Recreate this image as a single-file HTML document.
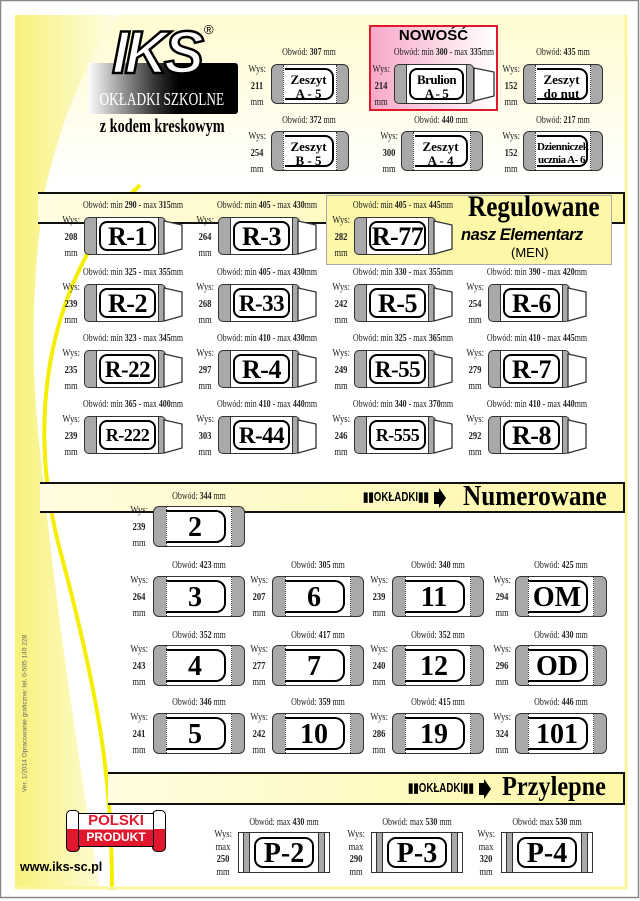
<!DOCTYPE html>
<html><head><meta charset="utf-8">
<style>
*{margin:0;padding:0;box-sizing:border-box}
body{width:640px;height:901px;overflow:hidden;background:#fff;position:relative;font-family:"Liberation Serif",serif;color:#000}
.a{position:absolute}
.ob{position:absolute;width:170px;text-align:center;font-size:11px;line-height:13px;transform:scaleX(.72);white-space:nowrap;color:#222}
.ob b{font-weight:bold}
.w{position:absolute;width:22px;text-align:center;font-size:11px;line-height:16.5px;transform:scaleX(.78);color:#222}
.w b{font-weight:bold}
.r{position:absolute;width:82px;height:38px;background:#a9a9a9;border:1.5px solid #333;border-radius:5px}
.r .in{position:absolute;left:11px;right:6px;top:0;bottom:0;background:#fff;border-left:1.5px solid #333;border-right:1.5px solid #333}
.r .lb{position:absolute;left:2px;right:2px;top:3px;bottom:3px;border:2px solid #000;border-radius:8px;font-weight:bold;font-size:26px;line-height:27px;text-align:center;white-space:nowrap;letter-spacing:-0.5px}
.r svg{position:absolute;left:79px;top:-1px;overflow:visible}
.n{position:absolute;width:92px;height:41px;background:#a9a9a9;border:1.5px solid #333;border-radius:6px}
.n .in{position:absolute;left:12px;right:12px;top:0;bottom:0;background:#fff;border-left:1px dotted #333;border-right:1px dotted #333}
.n .lb{position:absolute;left:-1px;right:5px;top:3px;bottom:3px;border:2px solid #000;border-left:none;border-radius:0 10px 10px 0;font-weight:bold;font-size:28px;line-height:31px;text-align:center}
.t{position:absolute;width:78px;height:40px;background:#a9a9a9;border:1.5px solid #333;border-radius:6px}
.t .in{position:absolute;left:11px;right:11px;top:0;bottom:0;background:#fff;border-left:1px dotted #333;border-right:1px dotted #333}
.t .lb{position:absolute;left:1px;right:2px;top:3px;bottom:3px;border:2px solid #000;border-radius:0 9px 9px 0;border-left:none;font-weight:bold;font-size:13px;line-height:13.5px;text-align:center;padding-top:3px;white-space:nowrap}
.p{position:absolute;width:92px;height:41px;background:#fff;border:1.2px solid #333}
.p .s1{position:absolute;left:4px;width:7px;top:0;bottom:0;background:#a9a9a9;border-left:1px solid #333;border-right:1px solid #333}
.p .s2{position:absolute;right:4px;width:7px;top:0;bottom:0;background:#a9a9a9;border-left:1px solid #333;border-right:1px solid #333}
.p .lb{position:absolute;left:15px;right:15px;top:4px;bottom:4px;border:2px solid #000;border-radius:9px;font-weight:bold;font-size:28px;line-height:30px;text-align:center}
.band{position:absolute;right:15px;border-top:2px solid #111;border-bottom:2px solid #111;border-right:2px solid #111;background:linear-gradient(90deg,#fffce0,#fdf8a8)}
.big{position:absolute;font-weight:bold;white-space:nowrap;transform-origin:left top}
.ok{position:absolute;font-family:"Liberation Sans",sans-serif;font-weight:bold;font-size:13px;white-space:nowrap;transform:scaleX(.75);transform-origin:left}
</style></head><body>
<svg class="a" style="left:0;top:0" width="640" height="901">
<defs>
<linearGradient id="yl" x1="0" x2="1" y1="0" y2="0"><stop offset="0" stop-color="#f7f27a"/><stop offset="1" stop-color="#fffde8"/></linearGradient>
<linearGradient id="tp" x1="0" x2="0" y1="0" y2="1"><stop offset="0" stop-color="#fffbd0"/><stop offset="1" stop-color="#ffffff"/></linearGradient>
</defs>
<rect x="0.5" y="0.5" width="638" height="897" fill="#fff" stroke="#888" stroke-width="1.5"/>
<rect x="15" y="15" width="610" height="874" fill="#fff"/>
<rect x="15" y="15" width="610" height="170" fill="url(#tp)"/>
<path d="M15,15 L120,15 Q70,80 45,190 Q25,320 40,450 Q60,650 100,889 L15,889 Z" fill="url(#yl)"/>
<path d="M140,185 C60,260 20,400 60,550 S112,780 112,890" fill="none" stroke="#f5ee00" stroke-width="4"/>
<line x1="626" y1="15" x2="626" y2="889" stroke="#fbf59a" stroke-width="3"/>
<line x1="15" y1="888" x2="626" y2="888" stroke="#fbf59a" stroke-width="3"/>
</svg>

<!-- logo -->
<div class="a" style="left:88px;top:63px;width:150px;height:51px;background:linear-gradient(90deg,#fff 0%,#333 45%,#000 60%);border-radius:0 3px 3px 0"></div>
<div class="big" style="left:112px;top:18px;font-size:60px;font-style:italic;color:#fff;-webkit-text-stroke:2.5px #000;letter-spacing:-4px;font-family:'Liberation Sans',sans-serif">IKS</div>
<div class="a" style="left:204px;top:22px;font-size:13px;font-family:'Liberation Sans',sans-serif">®</div>
<div class="a" style="left:80px;top:89px;width:150px;text-align:center;color:#fff;font-size:18px;transform:scaleX(.74);white-space:nowrap">OKŁADKI SZKOLNE</div>
<div class="a" style="left:80px;top:116px;width:158px;text-align:center;font-weight:bold;font-size:19px;transform:scaleX(.75);white-space:nowrap">z kodem kreskowym</div>

<!-- NOWOSC box -->
<div class="a" style="left:369px;top:25px;width:129px;height:86px;border:2px solid #e0182e;background:linear-gradient(90deg,#f7a8c8,#fff)"></div>
<div class="a" style="left:369px;top:27px;width:129px;text-align:center;font-family:'Liberation Sans',sans-serif;font-weight:bold;font-size:15px">NOWOŚĆ</div>

<!-- top items -->
<div class="ob" style="left:224px;top:46px">Obwód: <b>307</b> mm</div>
<div class="w" style="left:246px;top:61px">Wys:<br><b>211</b><br>mm</div>
<div class="t" style="left:271px;top:64px"><div class="in"><div class="lb">Zeszyt<br>A - 5</div></div></div>

<div class="ob" style="left:359px;top:46px">Obwód: min <b>300</b> - max <b>335</b>mm</div>
<div class="w" style="left:370px;top:61px">Wys:<br><b>214</b><br>mm</div>
<div class="r" style="left:394px;top:64px;width:80px;height:40px"><div class="in"><div class="lb" style="font-size:13px;line-height:13.5px;padding-top:3px">Brulion<br>A - 5</div></div><svg width="22" height="40"><polygon points="0,4 20,8 20,32 0,37" fill="#fff" stroke="#333" stroke-width="1.3"/></svg></div>

<div class="ob" style="left:478px;top:46px">Obwód: <b>435</b> mm</div>
<div class="w" style="left:500px;top:61px">Wys:<br><b>152</b><br>mm</div>
<div class="t" style="left:523px;top:64px;width:80px"><div class="in"><div class="lb">Zeszyt<br>do nut</div></div></div>

<div class="ob" style="left:224px;top:114px">Obwód: <b>372</b> mm</div>
<div class="w" style="left:246px;top:128px">Wys:<br><b>254</b><br>mm</div>
<div class="t" style="left:271px;top:131px"><div class="in"><div class="lb">Zeszyt<br>B - 5</div></div></div>

<div class="ob" style="left:356px;top:114px">Obwód: <b>440</b> mm</div>
<div class="w" style="left:378px;top:128px">Wys:<br><b>300</b><br>mm</div>
<div class="t" style="left:401px;top:131px;width:82px"><div class="in"><div class="lb">Zeszyt<br>A - 4</div></div></div>

<div class="ob" style="left:478px;top:114px">Obwód: <b>217</b> mm</div>
<div class="w" style="left:500px;top:128px">Wys:<br><b>152</b><br>mm</div>
<div class="t" style="left:523px;top:131px;width:80px"><div class="in"><div class="lb" style="font-size:11px;line-height:13px;letter-spacing:-0.5px;padding-top:4px">Dzienniczek<br>ucznia A- 6</div></div></div>

<!-- Regulowane band -->
<div class="band" style="left:38px;top:192px;height:32px"></div>
<div class="a" style="left:326px;top:195px;width:286px;height:70px;background:#fdf7a8;border:1px solid #aaa"></div>
<div class="big" style="left:468px;top:190px;font-size:30px;transform:scaleX(.84)">Regulowane</div>
<div class="big" style="left:461px;top:226px;font-family:'Liberation Sans',sans-serif;font-style:italic;font-size:16.5px;letter-spacing:-0.5px">nasz Elementarz</div>
<div class="a" style="left:511px;top:245px;font-family:'Liberation Sans',sans-serif;font-size:13px">(MEN)</div>

<!-- R row 1 -->
<div class="ob" style="left:48px;top:199px">Obwód: min <b>290</b> - max <b>315</b>mm</div>
<div class="w" style="left:60px;top:212px">Wys:<br><b>208</b><br>mm</div>
<div class="r" style="left:84px;top:217px"><div class="in"><div class="lb">R-1</div></div><svg width="20" height="40"><polygon points="0,4 18,8 18,32 0,37" fill="#fff" stroke="#333" stroke-width="1.3"/></svg></div>

<div class="ob" style="left:182px;top:199px">Obwód: min <b>405</b> - max <b>430</b>mm</div>
<div class="w" style="left:194px;top:212px">Wys:<br><b>264</b><br>mm</div>
<div class="r" style="left:218px;top:217px"><div class="in"><div class="lb">R-3</div></div><svg width="20" height="40"><polygon points="0,4 18,8 18,32 0,37" fill="#fff" stroke="#333" stroke-width="1.3"/></svg></div>

<div class="ob" style="left:318px;top:199px">Obwód: min <b>405</b> - max <b>445</b>mm</div>
<div class="w" style="left:330px;top:212px">Wys:<br><b>282</b><br>mm</div>
<div class="r" style="left:354px;top:217px"><div class="in"><div class="lb">R-77</div></div><svg width="20" height="40"><polygon points="0,4 18,8 18,32 0,37" fill="#fff" stroke="#333" stroke-width="1.3"/></svg></div>

<!-- R row 2 -->
<div class="ob" style="left:48px;top:266px">Obwód: min <b>325</b> - max <b>355</b>mm</div>
<div class="w" style="left:60px;top:279px">Wys:<br><b>239</b><br>mm</div>
<div class="r" style="left:84px;top:284px"><div class="in"><div class="lb">R-2</div></div><svg width="20" height="40"><polygon points="0,4 18,8 18,32 0,37" fill="#fff" stroke="#333" stroke-width="1.3"/></svg></div>

<div class="ob" style="left:182px;top:266px">Obwód: min <b>405</b> - max <b>430</b>mm</div>
<div class="w" style="left:194px;top:279px">Wys:<br><b>268</b><br>mm</div>
<div class="r" style="left:218px;top:284px"><div class="in"><div class="lb" style="font-size:23px">R-33</div></div><svg width="20" height="40"><polygon points="0,4 18,8 18,32 0,37" fill="#fff" stroke="#333" stroke-width="1.3"/></svg></div>

<div class="ob" style="left:318px;top:266px">Obwód: min <b>330</b> - max <b>355</b>mm</div>
<div class="w" style="left:330px;top:279px">Wys:<br><b>242</b><br>mm</div>
<div class="r" style="left:354px;top:284px"><div class="in"><div class="lb">R-5</div></div><svg width="20" height="40"><polygon points="0,4 18,8 18,32 0,37" fill="#fff" stroke="#333" stroke-width="1.3"/></svg></div>

<div class="ob" style="left:452px;top:266px">Obwód: min <b>390</b> - max <b>420</b>mm</div>
<div class="w" style="left:464px;top:279px">Wys:<br><b>254</b><br>mm</div>
<div class="r" style="left:488px;top:284px"><div class="in"><div class="lb">R-6</div></div><svg width="20" height="40"><polygon points="0,4 18,8 18,32 0,37" fill="#fff" stroke="#333" stroke-width="1.3"/></svg></div>

<!-- R row 3 -->
<div class="ob" style="left:48px;top:332px">Obwód: min <b>323</b> - max <b>345</b>mm</div>
<div class="w" style="left:60px;top:345px">Wys:<br><b>235</b><br>mm</div>
<div class="r" style="left:84px;top:350px"><div class="in"><div class="lb" style="font-size:23px">R-22</div></div><svg width="20" height="40"><polygon points="0,4 18,8 18,32 0,37" fill="#fff" stroke="#333" stroke-width="1.3"/></svg></div>

<div class="ob" style="left:182px;top:332px">Obwód: min <b>410</b> - max <b>430</b>mm</div>
<div class="w" style="left:194px;top:345px">Wys:<br><b>297</b><br>mm</div>
<div class="r" style="left:218px;top:350px"><div class="in"><div class="lb">R-4</div></div><svg width="20" height="40"><polygon points="0,4 18,8 18,32 0,37" fill="#fff" stroke="#333" stroke-width="1.3"/></svg></div>

<div class="ob" style="left:318px;top:332px">Obwód: min <b>325</b> - max <b>365</b>mm</div>
<div class="w" style="left:330px;top:345px">Wys:<br><b>249</b><br>mm</div>
<div class="r" style="left:354px;top:350px"><div class="in"><div class="lb" style="font-size:23px">R-55</div></div><svg width="20" height="40"><polygon points="0,4 18,8 18,32 0,37" fill="#fff" stroke="#333" stroke-width="1.3"/></svg></div>

<div class="ob" style="left:452px;top:332px">Obwód: min <b>410</b> - max <b>445</b>mm</div>
<div class="w" style="left:464px;top:345px">Wys:<br><b>279</b><br>mm</div>
<div class="r" style="left:488px;top:350px"><div class="in"><div class="lb">R-7</div></div><svg width="20" height="40"><polygon points="0,4 18,8 18,32 0,37" fill="#fff" stroke="#333" stroke-width="1.3"/></svg></div>

<!-- R row 4 -->
<div class="ob" style="left:48px;top:398px">Obwód: min <b>365</b> - max <b>400</b>mm</div>
<div class="w" style="left:60px;top:411px">Wys:<br><b>239</b><br>mm</div>
<div class="r" style="left:84px;top:416px"><div class="in"><div class="lb" style="font-size:18px">R-222</div></div><svg width="20" height="40"><polygon points="0,4 18,8 18,32 0,37" fill="#fff" stroke="#333" stroke-width="1.3"/></svg></div>

<div class="ob" style="left:182px;top:398px">Obwód: min <b>410</b> - max <b>440</b>mm</div>
<div class="w" style="left:194px;top:411px">Wys:<br><b>303</b><br>mm</div>
<div class="r" style="left:218px;top:416px"><div class="in"><div class="lb" style="font-size:23px">R-44</div></div><svg width="20" height="40"><polygon points="0,4 18,8 18,32 0,37" fill="#fff" stroke="#333" stroke-width="1.3"/></svg></div>

<div class="ob" style="left:318px;top:398px">Obwód: min <b>340</b> - max <b>370</b>mm</div>
<div class="w" style="left:330px;top:411px">Wys:<br><b>246</b><br>mm</div>
<div class="r" style="left:354px;top:416px"><div class="in"><div class="lb" style="font-size:18px">R-555</div></div><svg width="20" height="40"><polygon points="0,4 18,8 18,32 0,37" fill="#fff" stroke="#333" stroke-width="1.3"/></svg></div>

<div class="ob" style="left:452px;top:398px">Obwód: min <b>410</b> - max <b>440</b>mm</div>
<div class="w" style="left:464px;top:411px">Wys:<br><b>292</b><br>mm</div>
<div class="r" style="left:488px;top:416px"><div class="in"><div class="lb">R-8</div></div><svg width="20" height="40"><polygon points="0,4 18,8 18,32 0,37" fill="#fff" stroke="#333" stroke-width="1.3"/></svg></div>

<!-- Numerowane band -->
<div class="band" style="left:40px;top:482px;height:31px"></div>
<div class="ok" style="left:363px;top:489px">▮▮OKŁADKI▮▮</div>
<svg class="a" style="left:434px;top:488px" width="12" height="20"><polygon points="0,4 5,4 5,0 12,10 5,20 5,16 0,16" fill="#000"/></svg>
<div class="big" style="left:463px;top:481px;font-size:28px;transform:scaleX(.9)">Numerowane</div>

<!-- numbered -->
<div class="ob" style="left:114px;top:490px">Obwód: <b>344</b> mm</div>
<div class="w" style="left:128px;top:502px">Wys:<br><b>239</b><br>mm</div>
<div class="n" style="left:153px;top:506px"><div class="in"><div class="lb">2</div></div></div>

<div class="ob" style="left:114px;top:559px">Obwód: <b>423</b> mm</div>
<div class="w" style="left:128px;top:572px">Wys:<br><b>264</b><br>mm</div>
<div class="n" style="left:153px;top:576px"><div class="in"><div class="lb">3</div></div></div>
<div class="ob" style="left:233px;top:559px">Obwód: <b>305</b> mm</div>
<div class="w" style="left:248px;top:572px">Wys:<br><b>207</b><br>mm</div>
<div class="n" style="left:272px;top:576px"><div class="in"><div class="lb">6</div></div></div>
<div class="ob" style="left:353px;top:559px">Obwód: <b>340</b> mm</div>
<div class="w" style="left:368px;top:572px">Wys:<br><b>239</b><br>mm</div>
<div class="n" style="left:392px;top:576px"><div class="in"><div class="lb">11</div></div></div>
<div class="ob" style="left:476px;top:559px">Obwód: <b>425</b> mm</div>
<div class="w" style="left:491px;top:572px">Wys:<br><b>294</b><br>mm</div>
<div class="n" style="left:515px;top:576px"><div class="in"><div class="lb">OM</div></div></div>

<div class="ob" style="left:114px;top:629px">Obwód: <b>352</b> mm</div>
<div class="w" style="left:128px;top:641px">Wys:<br><b>243</b><br>mm</div>
<div class="n" style="left:153px;top:645px"><div class="in"><div class="lb">4</div></div></div>
<div class="ob" style="left:233px;top:629px">Obwód: <b>417</b> mm</div>
<div class="w" style="left:248px;top:641px">Wys:<br><b>277</b><br>mm</div>
<div class="n" style="left:272px;top:645px"><div class="in"><div class="lb">7</div></div></div>
<div class="ob" style="left:353px;top:629px">Obwód: <b>352</b> mm</div>
<div class="w" style="left:368px;top:641px">Wys:<br><b>240</b><br>mm</div>
<div class="n" style="left:392px;top:645px"><div class="in"><div class="lb">12</div></div></div>
<div class="ob" style="left:476px;top:629px">Obwód: <b>430</b> mm</div>
<div class="w" style="left:491px;top:641px">Wys:<br><b>296</b><br>mm</div>
<div class="n" style="left:515px;top:645px"><div class="in"><div class="lb">OD</div></div></div>

<div class="ob" style="left:114px;top:696px">Obwód: <b>346</b> mm</div>
<div class="w" style="left:128px;top:709px">Wys:<br><b>241</b><br>mm</div>
<div class="n" style="left:153px;top:713px"><div class="in"><div class="lb">5</div></div></div>
<div class="ob" style="left:233px;top:696px">Obwód: <b>359</b> mm</div>
<div class="w" style="left:248px;top:709px">Wys:<br><b>242</b><br>mm</div>
<div class="n" style="left:272px;top:713px"><div class="in"><div class="lb">10</div></div></div>
<div class="ob" style="left:353px;top:696px">Obwód: <b>415</b> mm</div>
<div class="w" style="left:368px;top:709px">Wys:<br><b>286</b><br>mm</div>
<div class="n" style="left:392px;top:713px"><div class="in"><div class="lb">19</div></div></div>
<div class="ob" style="left:476px;top:696px">Obwód: <b>446</b> mm</div>
<div class="w" style="left:491px;top:709px">Wys:<br><b>324</b><br>mm</div>
<div class="n" style="left:515px;top:713px"><div class="in"><div class="lb">101</div></div></div>

<!-- Przylepne band -->
<div class="band" style="left:108px;top:772px;height:33px"></div>
<div class="ok" style="left:408px;top:780px">▮▮OKŁADKI▮▮</div>
<svg class="a" style="left:479px;top:779px" width="12" height="20"><polygon points="0,4 5,4 5,0 12,10 5,20 5,16 0,16" fill="#000"/></svg>
<div class="big" style="left:502px;top:771px;font-size:27px;transform:scaleX(.9)">Przylepne</div>

<div class="ob" style="left:199px;top:816px">Obwód: max <b>430</b> mm</div>
<div class="w" style="left:212px;top:828px;line-height:12.5px">Wys:<br>max<br><b>250</b><br>mm</div>
<div class="p" style="left:238px;top:832px"><div class="s1"></div><div class="s2"></div><div class="lb">P-2</div></div>
<div class="ob" style="left:332px;top:816px">Obwód: max <b>530</b> mm</div>
<div class="w" style="left:345px;top:828px;line-height:12.5px">Wys:<br>max<br><b>290</b><br>mm</div>
<div class="p" style="left:371px;top:832px"><div class="s1"></div><div class="s2"></div><div class="lb">P-3</div></div>
<div class="ob" style="left:462px;top:816px">Obwód: max <b>530</b> mm</div>
<div class="w" style="left:475px;top:828px;line-height:12.5px">Wys:<br>max<br><b>320</b><br>mm</div>
<div class="p" style="left:501px;top:832px"><div class="s1"></div><div class="s2"></div><div class="lb">P-4</div></div>

<!-- Polski produkt -->
<div class="a" style="left:66px;top:810px;width:14px;height:42px;border:1.5px solid #000;border-radius:5px;background:linear-gradient(#fff 45%,#e0182e 45%)"></div>
<div class="a" style="left:152px;top:810px;width:14px;height:42px;border:1.5px solid #000;border-radius:5px;background:linear-gradient(#fff 45%,#e0182e 45%)"></div>
<div class="a" style="left:78px;top:813px;width:76px;height:34px;border:1.5px solid #000;background:linear-gradient(#fff 48%,#e0182e 48%)"></div>
<div class="a" style="left:78px;top:812px;width:76px;text-align:center;font-family:'Liberation Sans',sans-serif;font-weight:bold;font-size:15px;color:#e0182e;line-height:17px">POLSKI</div>
<div class="a" style="left:78px;top:830px;width:76px;text-align:center;font-family:'Liberation Sans',sans-serif;font-weight:bold;font-size:12px;color:#fff;line-height:14px">PRODUKT</div>
<div class="a" style="left:20px;top:860px;font-family:'Liberation Sans',sans-serif;font-weight:bold;font-size:12.5px">www.iks-sc.pl</div>

<div class="a" style="left:-75px;top:710px;width:200px;transform:rotate(-90deg);font-family:'Liberation Sans',sans-serif;font-size:6.5px;color:#666;white-space:nowrap;text-align:center">Ver. 1/2014 Opracowanie graficzne: tel. 0-505 140 228</div>
</body></html>
